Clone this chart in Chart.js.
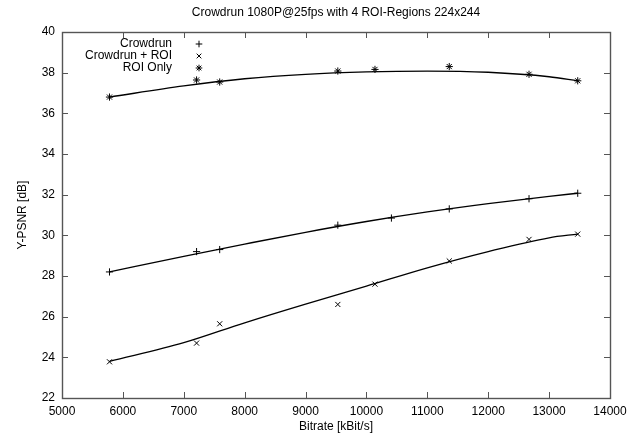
<!DOCTYPE html>
<html>
<head>
<meta charset="utf-8">
<script src="https://cdn.jsdelivr.net/npm/chart.js@4/dist/chart.umd.min.js"></script>
<style>
  html, body { margin: 0; padding: 0; background: #fff; }
  #wrap { width: 638px; height: 439px; }
</style>
</head>
<body>
<div id="wrap"><canvas id="grafico"></canvas></div>
<script>
// Datos
const titulo = "Crowdrun 1080P@25fps with 4 ROI-Regions 224x244";
const etiquetas = ["Crowdrun", "Crowdrun + ROI", "ROI Only"];

// bitrates medidos (kBit/s)
const bitrate = [5780, 7210, 7590, 9530, 10140, 11360, 12670, 13470];
const bitrateCrowdrun = [5780, 7210, 7590, 9530, 10410, 11360, 12670, 13470];

const psnrCrowdrun = [28.2, 29.2, 29.3, 30.5, 30.85, 31.3, 31.8, 32.07];
const psnrCrowdrunRoi = [23.78, 24.7, 25.65, 26.6, 27.6, 28.74, 29.8, 30.06];
const psnrRoiOnly = [36.8, 37.64, 37.54, 38.08, 38.16, 38.3, 37.92, 37.6];

// curvas ajustadas
const curvaX = [5780, 7000, 8000, 9000, 10000, 11000, 12000, 13000, 13470];
const curvaCrowdrun = [28.2, 28.97, 29.57, 30.15, 30.68, 31.15, 31.56, 31.92, 32.07];
const curvaCrowdrunRoi = [23.8, 24.72, 25.7, 26.62, 27.5, 28.4, 29.2, 29.88, 30.06];
const curvaRoiOnly = [36.8, 37.35, 37.7, 37.92, 38.04, 38.08, 38.02, 37.8, 37.6];

const ticksX = [5000, 6000, 7000, 8000, 9000, 10000, 11000, 12000, 13000, 14000];
const ticksY = [22, 24, 26, 28, 30, 32, 34, 36, 38, 40];

const fuente = "'Liberation Sans', Arial, Helvetica, sans-serif";

function puntos(xs, ys) {
  return xs.map((x, i) => ({ x: x, y: ys[i] }));
}

function serieMarcas(label, xs, ys, estilo) {
  return {
    label: label,
    data: puntos(xs, ys),
    showLine: false,
    pointStyle: estilo,
    pointRadius: 3.6,
    borderColor: "#000",
    backgroundColor: "#000",
    pointBorderWidth: 1,
  };
}

function serieCurva(ys) {
  return {
    label: "",
    data: puntos(curvaX, ys),
    showLine: true,
    pointRadius: 0,
    borderColor: "#000",
    borderWidth: 1.3,
    cubicInterpolationMode: "monotone",
    fill: false,
  };
}

// Plugin: titulo, marco, ticks hacia dentro y leyenda estilo gnuplot
const estiloGnuplot = {
  id: "estiloGnuplot",
  afterDraw(chart) {
    const ctx = chart.ctx;
    const a = chart.chartArea;
    const sx = chart.scales.x;
    const sy = chart.scales.y;
    ctx.save();
    ctx.strokeStyle = "#555";
    ctx.lineWidth = 1.4;
    ctx.strokeRect(a.left + 0.5, a.top + 0.5, a.right - a.left, a.bottom - a.top);

    // ticks en los cuatro lados
    ctx.lineWidth = 1;
    ctx.beginPath();
    ticksX.forEach((v) => {
      const px = Math.round(sx.getPixelForValue(v)) + 0.5;
      ctx.moveTo(px, a.bottom);
      ctx.lineTo(px, a.bottom - 6);
      ctx.moveTo(px, a.top);
      ctx.lineTo(px, a.top + 6);
    });
    ticksY.forEach((v) => {
      const py = Math.round(sy.getPixelForValue(v)) + 0.5;
      ctx.moveTo(a.left, py);
      ctx.lineTo(a.left + 6, py);
      ctx.moveTo(a.right, py);
      ctx.lineTo(a.right - 6, py);
    });
    ctx.stroke();

    // titulo
    ctx.fillStyle = "#000";
    ctx.strokeStyle = "#000";
    ctx.font = "12px " + fuente;
    ctx.textAlign = "center";
    ctx.textBaseline = "middle";
    ctx.fillText(titulo, (a.left + a.right) / 2, 13);

    // leyenda
    const estilos = ["cross", "crossRot", "star"];
    etiquetas.forEach((t, i) => {
      const y = 44 + i * 12;
      ctx.textAlign = "right";
      ctx.fillText(t, 172, y);
      Chart.helpers.drawPoint(ctx, { pointStyle: estilos[i], radius: 3.3, borderWidth: 1 }, 199, y);
    });
    ctx.restore();
  },
};

const ctx = document.getElementById("grafico").getContext("2d");
window.miGrafico = new Chart(ctx, {
  type: "scatter",
  data: {
    datasets: [
      serieMarcas(etiquetas[0], bitrateCrowdrun, psnrCrowdrun, "cross"),
      serieMarcas(etiquetas[1], bitrate, psnrCrowdrunRoi, "crossRot"),
      serieMarcas(etiquetas[2], bitrate, psnrRoiOnly, "star"),
      serieCurva(curvaCrowdrun),
      serieCurva(curvaCrowdrunRoi),
      serieCurva(curvaRoiOnly),
    ],
  },
  options: {
    responsive: true,
    maintainAspectRatio: false,
    animation: false,
    layout: { padding: { top: 32, right: 28, bottom: 5, left: 15 } },
    plugins: {
      legend: { display: false },
      title: { display: false },
      tooltip: { enabled: false },
    },
    scales: {
      x: {
        type: "linear",
        min: 5000,
        max: 14000,
        afterFit(scale) { scale.height = 36; },
        afterBuildTicks(scale) { scale.ticks = ticksX.map((v) => ({ value: v })); },
        grid: { display: false, drawTicks: false },
        border: { display: false },
        ticks: { color: "#000", font: { family: fuente, size: 12 }, padding: 6, maxRotation: 0, callback: (v) => String(v) },
        title: { display: true, text: "Bitrate [kBit/s]", color: "#000", font: { family: fuente, size: 12 }, padding: { top: 2, bottom: 0 } },
      },
      y: {
        min: 22,
        max: 40,
        afterFit(scale) { scale.width = 47; },
        afterBuildTicks(scale) { scale.ticks = ticksY.map((v) => ({ value: v })); },
        grid: { display: false, drawTicks: false },
        border: { display: false },
        ticks: { color: "#000", font: { family: fuente, size: 12 }, padding: 7, callback: (v) => String(v) },
        title: { display: true, text: "Y-PSNR [dB]", color: "#000", font: { family: fuente, size: 12 }, padding: { top: 0, bottom: 4 } },
      },
    },
  },
  plugins: [estiloGnuplot],
});
</script>
</body>
</html>
